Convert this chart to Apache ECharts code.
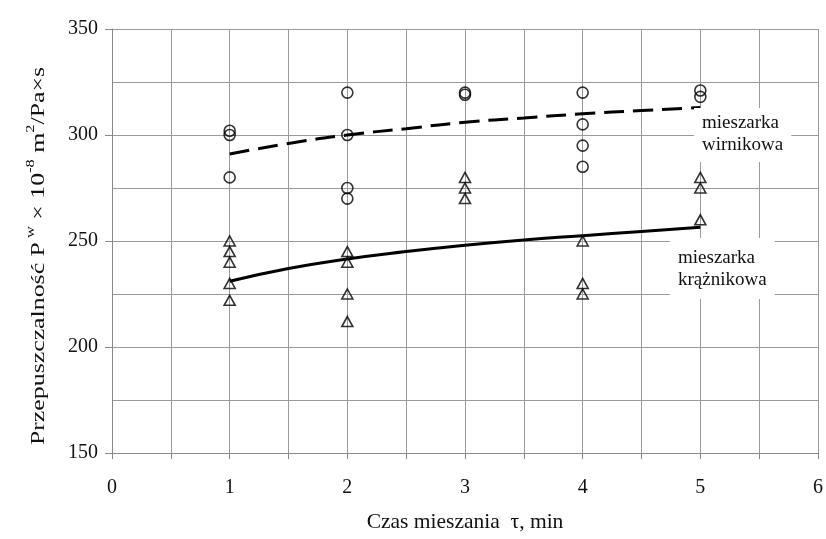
<!DOCTYPE html>
<html><head><meta charset="utf-8">
<script src="https://cdn.jsdelivr.net/npm/echarts@6/dist/echarts.min.js"></script>
<style>html,body{margin:0;padding:0;background:#fff}#c{width:826px;height:539px}</style>
</head><body><div id="c"></div>
<script>
// Data
const tau = [1, 2, 3, 4, 5];
const wirnikowaPts = [[302, 300, 280], [320, 300, 275, 270], [320, 319], [320, 305, 295, 285], [321, 318]];
const kraznikowaPts = [[250, 245, 240, 230, 222], [245, 240, 225, 212], [280, 275, 270], [250, 230, 225], [280, 275, 260]];
const trendTau = [1, 1.5, 2, 2.5, 3, 3.5, 4, 4.5, 5];
const trendWirnikowa = [291, 296, 300, 303, 306, 308, 310, 311.5, 313];
const trendKraznikowa = [231, 237, 241.5, 245, 248, 250.5, 252.5, 254.5, 256.5];
const xTicks = [0, 1, 2, 3, 4, 5, 6];
const yTicks = [150, 200, 250, 300, 350];

function pairs(xs, groups) { const out = []; xs.forEach((x, i) => groups[i].forEach(v => out.push([x, v]))); return out; }
function line(xs, ys) { return xs.map((x, i) => [x, ys[i]]); }

const FONT = '"Liberation Serif","Times New Roman",serif';
const gridCol = '#9a9a9a';
const chart = echarts.init(document.getElementById('c'), null, { renderer: 'canvas' });
chart.setOption({
  animation: false,
  backgroundColor: '#fff',
  textStyle: { fontFamily: FONT },
  grid: { left: 112, right: 8, top: 29, bottom: 86, containLabel: false },
  xAxis: {
    type: 'value', min: 0, max: 6, interval: 0.5,
    name: 'Czas mieszania  τ, min', nameLocation: 'middle', nameGap: 58,
    nameTextStyle: { fontFamily: FONT, fontSize: 21.5, color: '#111' },
    axisLine: { lineStyle: { color: '#888', width: 1 } },
    axisTick: { show: true, length: 6, lineStyle: { color: '#888' } },
    axisLabel: { margin: 25, fontFamily: FONT, fontSize: 20, color: '#111',
      formatter: v => xTicks.includes(v) ? String(v) : '' },
    splitLine: { show: true, lineStyle: { color: gridCol, width: 1 } }
  },
  yAxis: {
    type: 'value', min: yTicks[0], max: yTicks[yTicks.length - 1], interval: 50,
    axisLine: { show: true, lineStyle: { color: '#888', width: 1 } },
    axisTick: { show: true, length: 7, lineStyle: { color: '#888' } },
    minorTick: { show: false, splitNumber: 2 },
    minorSplitLine: { show: true, lineStyle: { color: gridCol, width: 1 } },
    axisLabel: { margin: 14, fontFamily: FONT, fontSize: 20, color: '#111' },
    splitLine: { show: true, lineStyle: { color: gridCol, width: 1 } }
  },
  series: [
    { type: 'line', data: line(trendTau, trendWirnikowa), smooth: true, symbol: 'none',
      lineStyle: { color: '#000', width: 3, type: [20, 9] }, z: 3 },
    { type: 'line', data: line(trendTau, trendKraznikowa), smooth: true, symbol: 'none',
      lineStyle: { color: '#000', width: 3, type: 'solid' }, z: 3 },
    { type: 'scatter', data: pairs(tau, wirnikowaPts), symbol: 'circle', symbolSize: 11,
      itemStyle: { color: 'rgba(255,255,255,0)', borderColor: '#000', borderWidth: 1.6 }, z: 4 },
    { type: 'scatter', data: pairs(tau, kraznikowaPts), symbol: 'triangle', symbolSize: [11, 10],
      itemStyle: { color: 'rgba(255,255,255,0)', borderColor: '#000', borderWidth: 1.6 }, z: 4 }
  ],
  graphic: [
    { type: 'text', x: 37, y: 256, rotation: Math.PI / 2, scaleX: 1.36, z: 10,
      style: {
        text: '{n|Przepuszczalność P}{s| w}{n| × 10}{s|-8}{n| m}{s|2}{n|/Pa×s}',
        align: 'center', verticalAlign: 'middle',
        rich: {
          n: { fontFamily: FONT, fontSize: 19, fill: '#111', lineHeight: 24, verticalAlign: 'bottom' },
          s: { fontFamily: FONT, fontSize: 12, fill: '#111', lineHeight: 24, verticalAlign: 'top' }
        }
      } },
    { type: 'text', left: 694, top: 108, z: 10,
      style: { text: 'mieszarka\nwirnikowa', font: '19px ' + FONT, fill: '#111', lineHeight: 22,
        backgroundColor: '#fff', padding: [4, 8, 6, 8] } },
    { type: 'text', left: 670, top: 238, z: 10,
      style: { text: 'mieszarka\nkrążnikowa', font: '19px ' + FONT, fill: '#111', lineHeight: 22,
        backgroundColor: '#fff', padding: [9, 8, 8, 8] } }
  ]
});
</script></body></html>
